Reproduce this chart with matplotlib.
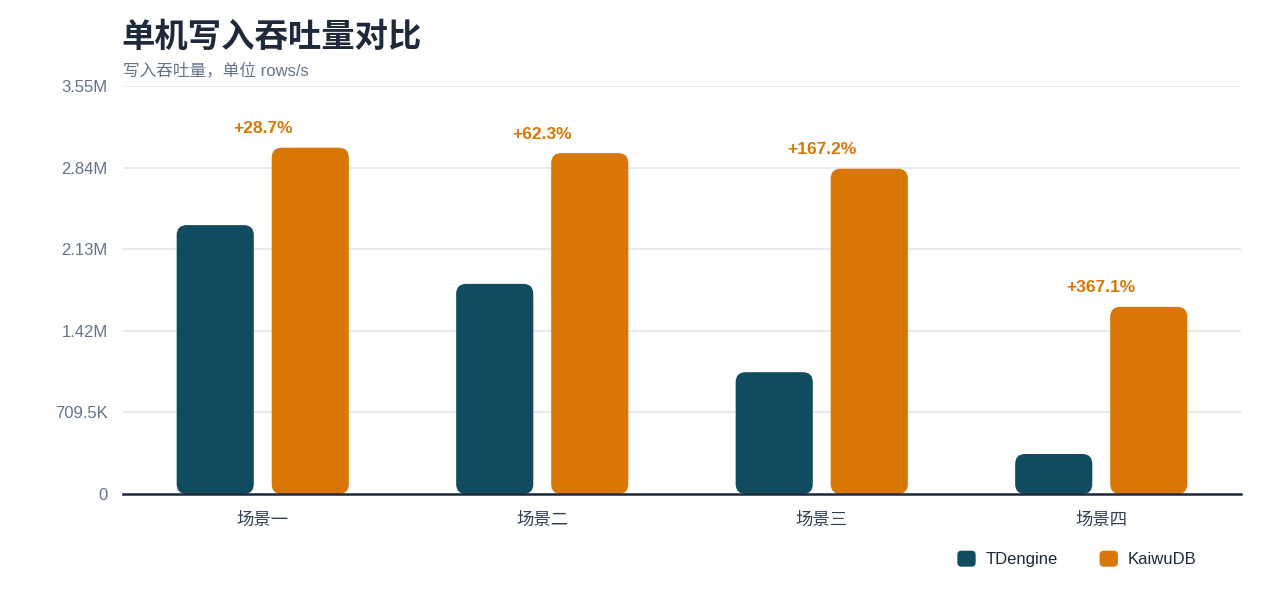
import matplotlib
matplotlib.use('Agg')
import matplotlib.pyplot as plt
from matplotlib.patches import FancyBboxPatch, Patch
from matplotlib.legend_handler import HandlerPatch

plt.rcParams['font.family'] = ['Liberation Sans', 'Noto Sans CJK SC', 'DejaVu Sans']

# data (rows/s, in millions)
categories = ['场景一', '场景二', '场景三', '场景四']
series_names = ['TDengine', 'KaiwuDB']
tdengine = [2.338, 1.827, 1.059, 0.348]
kaiwudb = [3.011, 2.964, 2.828, 1.627]
gain_labels = ['+28.7%', '+62.3%', '+167.2%', '+367.1%']
y_ticks = [0, 0.7095, 1.419, 2.1285, 2.838, 3.5475]
y_tick_labels = ['0', '709.5K', '1.42M', '2.13M', '2.84M', '3.55M']

colors = ['#114b5f', '#d97706']
title_color = '#1e293b'
muted = '#64748b'

W, H = 1280, 597
fig = plt.figure(figsize=(W / 100, H / 100), dpi=100)
ax_pos = [123 / W, 1 - 494 / H, (1241 - 123) / W, (494 - 86) / H]
ax = fig.add_axes(ax_pos)

xlim = (-0.5, len(categories) - 0.5)
ylim = (0, y_ticks[-1])
ax.set_xlim(*xlim)
ax.set_ylim(*ylim)

# pixel scale, used to keep the corner rounding circular
x_px = ax_pos[2] * W / (xlim[1] - xlim[0])
y_px = ax_pos[3] * H / (ylim[1] - ylim[0])
radius_px = 10
bar_w = 0.276
offset = 0.17


def rounded_bar(x, h, color):
    r = radius_px / x_px
    p = FancyBboxPatch((x - bar_w / 2, 0), bar_w, h,
                       boxstyle=f'round,pad=0,rounding_size={r}',
                       mutation_aspect=x_px / y_px,
                       facecolor=color, edgecolor='none', zorder=3)
    ax.add_patch(p)


for i in range(len(categories)):
    rounded_bar(i - offset, tdengine[i], colors[0])
    rounded_bar(i + offset, kaiwudb[i], colors[1])
    ax.text(i, kaiwudb[i] + 19 / y_px, gain_labels[i], ha='center', va='center',
            fontsize=12.5, fontweight='bold', color=colors[1])

# grid and axes styling
ax.set_yticks(y_ticks)
ax.set_yticklabels(y_tick_labels)
ax.set_xticks(range(len(categories)))
ax.set_xticklabels(categories)
ax.grid(axis='y', color='#e2e8f0', linewidth=1.2, zorder=0)
ax.set_axisbelow(True)
for s in ['top', 'right', 'left']:
    ax.spines[s].set_visible(False)
ax.spines['bottom'].set_color(title_color)
ax.spines['bottom'].set_linewidth(1.8)
ax.spines['bottom'].set_zorder(4)
ax.tick_params(axis='y', length=0, pad=11, labelsize=12, labelcolor=muted)
ax.tick_params(axis='x', length=0, pad=13, labelsize=12.5, labelcolor='#334155')

# titles
fig.text(121 / W, 1 - 38 / H, '单机写入吞吐量对比', fontsize=24, fontweight='black',
         color=title_color, ha='left', va='center')
fig.text(123 / W, 1 - 70 / H, '写入吞吐量，单位 rows/s', fontsize=12,
         color=muted, ha='left', va='center')


class RoundHandler(HandlerPatch):
    def create_artists(self, legend, orig_handle, xdescent, ydescent,
                       width, height, fontsize, trans):
        p = FancyBboxPatch((-xdescent, -ydescent), width, height,
                           boxstyle='round,pad=0,rounding_size=3',
                           facecolor=orig_handle.get_facecolor(),
                           edgecolor='none', transform=trans)
        return [p]


handles = [Patch(facecolor=c, label=n) for c, n in zip(colors, series_names)]
fig.legend(handles=handles, loc='center', bbox_to_anchor=(1077 / W, 1 - 559 / H),
           ncol=2, frameon=False, fontsize=12, handlelength=1.1, handleheight=1.1,
           handletextpad=0.6, columnspacing=2.5, labelcolor=title_color,
           handler_map={Patch: RoundHandler()})

fig.savefig('out.png', dpi=100)
